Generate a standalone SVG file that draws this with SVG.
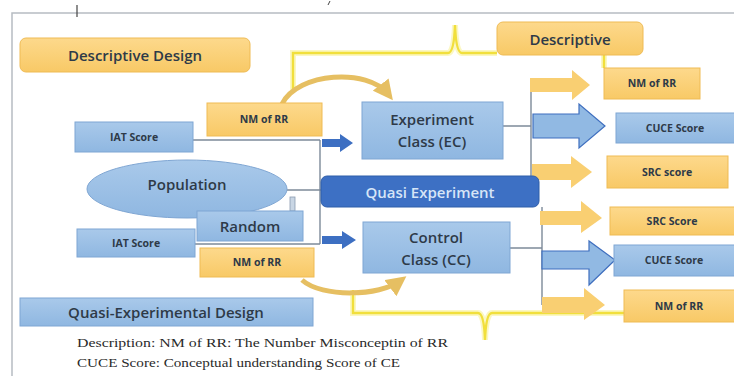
<svg xmlns="http://www.w3.org/2000/svg" width="734" height="376" viewBox="0 0 734 376">
<defs>
<linearGradient id="gO" x1="0" y1="0" x2="0" y2="1"><stop offset="0" stop-color="#fdd98c"/><stop offset="1" stop-color="#f8c966"/></linearGradient>
<linearGradient id="gB" x1="0" y1="0" x2="0" y2="1"><stop offset="0" stop-color="#a9c9ea"/><stop offset="1" stop-color="#8fb7e1"/></linearGradient>
<marker id="gold" viewBox="0 0 10 10" refX="6" refY="5" markerWidth="4" markerHeight="4" orient="auto"><path d="M0,0 L10,5 L0,10 z" fill="#e6bf62"/></marker>
<style>
.o{fill:url(#gO);stroke:#efbb55;stroke-width:1}
.b{fill:url(#gB);stroke:#7fa6d3;stroke-width:1}
.t{font-family:"Open Sans","Liberation Sans",sans-serif;fill:#2e3a48;text-anchor:middle;dominant-baseline:central}
.big{font-size:15px;font-weight:600}
.mid{font-size:15px;font-weight:600}
.sm{font-size:10.5px;font-weight:700}
.ln{stroke:#7d8a99;stroke-width:1.4;fill:none}
.yl{stroke:#f1df3c;stroke-width:2.4;fill:none}
.yg{stroke:#faf3a8;stroke-width:6;fill:none;opacity:.7}
.ao{fill:#f9cf72}
.ab{fill:#91b9e3;stroke:#3f6fbf;stroke-width:1.2}
.ad{fill:#3d6fc2}
.cur{stroke:#e6bf62;stroke-width:5;fill:none}
.ser{font-family:"Liberation Serif",serif;font-size:13px;fill:#2a2a2a}
</style>
</defs>
<rect x="0" y="0" width="734" height="376" fill="#ffffff"/>
<rect x="12" y="13" width="740" height="400" fill="#ffffff" stroke="#b7bcc2" stroke-width="1.5"/>
<line x1="77" y1="5" x2="77" y2="17" stroke="#444" stroke-width="1.2"/>
<line x1="330" y1="1" x2="328" y2="5" stroke="#444" stroke-width="1"/>

<g id="connectors">
<path class="yg" d="M293 90 L293 53 L448 53 Q454 53 455 25 Q456 53 462 53 L497 53"/>
<path class="yl" d="M293 90 L293 53 L448 53 Q454 53 455 25 Q456 53 462 53 L497 53"/>
<path class="yg" d="M604 55 L604 68"/>
<path class="yl" d="M604 55 L604 68"/>
<path class="yg" d="M353 290 L353 313 L478 313 Q484 313 485 340 Q486 313 492 313 L624 313"/>
<path class="yl" d="M353 290 L353 313 L478 313 Q484 313 485 340 Q486 313 492 313 L624 313"/>
<path class="ln" d="M193 140 L320 140 M195 244 L320 244 M320 140 L320 244"/>
<path class="ln" d="M287 190 L321 190"/>
<rect x="290" y="197" width="5" height="14" fill="#c9d6e4" stroke="#8a9bb0" stroke-width="0.8"/>
<path class="ln" d="M503 126 L531 126 M531 84 L531 185"/>
<path class="ln" d="M510 248 L542 248 M542 207 L542 305"/>
<polygon class="ad" points="322,139 340,139 340,134 353,143 340,152 340,147 322,147"/>
<polygon class="ad" points="322,236 342,236 342,231 356,240 342,249 342,244 322,244"/>
<path class="cur" d="M282 104 C298 72 368 68 388 94" marker-end="url(#gold)"/>
<path class="cur" d="M302 280 C322 298 380 296 400 281" marker-end="url(#gold)"/>
<polygon class="ao" points="530,78 572,78 572,70 590,85 572,100 572,92 530,92"/>
<polygon class="ab" points="533,114 579,114 579,104 605,126 579,148 579,138 533,138"/>
<polygon class="ao" points="532,164 571,164 571,156 592,172 571,188 571,180 532,180"/>
<polygon class="ao" points="540,211 581,211 581,201 602,218 581,233 581,225 540,225"/>
<polygon class="ab" points="542,251 589,251 589,241 615,260 589,285 589,269 542,269"/>
<polygon class="ao" points="542,297 584,297 584,288 605,305 584,320 584,313 542,313"/>
</g>

<g id="descriptive-design"><rect class="o" x="20" y="38" width="230" height="34" rx="6"/><text class="t big" x="135" y="55">Descriptive Design</text></g>
<g id="descriptive"><rect class="o" x="497" y="22" width="146" height="33" rx="6"/><text class="t big" x="570" y="39">Descriptive</text></g>
<g id="nm-ec"><rect class="o" x="207" y="103" width="115" height="33"/><text class="t sm" x="264" y="119">NM of RR</text></g>
<g id="iat-ec"><rect class="b" x="75" y="122" width="118" height="30"/><text class="t sm" x="134" y="137">IAT Score</text></g>
<g id="population"><ellipse class="b" cx="187" cy="189" rx="100" ry="29"/><text class="t mid" x="187" y="184">Population</text></g>
<g id="random"><rect class="b" x="197" y="211" width="106" height="30"/><text class="t big" x="250" y="226">Random</text></g>
<g id="iat-cc"><rect class="b" x="77" y="229" width="118" height="28"/><text class="t sm" x="136" y="243">IAT Score</text></g>
<g id="nm-cc"><rect class="o" x="200" y="248" width="114" height="29"/><text class="t sm" x="257" y="262">NM of RR</text></g>
<g id="experiment-class"><rect class="b" x="362" y="102" width="141" height="57"/><text class="t mid" x="432" y="119">Experiment</text><text class="t mid" x="432" y="141">Class (EC)</text></g>
<g id="quasi-experiment"><rect x="321" y="176" width="218" height="31" rx="6" fill="#3d70c4" stroke="#2f5ea9"/><text class="t mid" x="430" y="192" style="fill:#d6e5f7">Quasi Experiment</text></g>
<g id="control-class"><rect class="b" x="363" y="222" width="147" height="51"/><text class="t mid" x="436" y="237">Control</text><text class="t mid" x="436" y="259">Class (CC)</text></g>
<g id="quasi-experimental-design"><rect class="b" x="20" y="298" width="293" height="28"/><text class="t mid" x="166" y="312">Quasi-Experimental Design</text></g>
<g id="nm-ec-out"><rect class="o" x="604" y="68" width="96" height="31"/><text class="t sm" x="652" y="83">NM of RR</text></g>
<g id="cuce-ec-out"><rect class="b" x="616" y="113" width="120" height="30"/><text class="t sm" x="675" y="128">CUCE Score</text></g>
<g id="src-ec-out"><rect class="o" x="607" y="156" width="121" height="32"/><text class="t sm" x="667" y="172">SRC score</text></g>
<g id="src-cc-out"><rect class="o" x="610" y="207" width="126" height="28"/><text class="t sm" x="672" y="221">SRC Score</text></g>
<g id="cuce-cc-out"><rect class="b" x="614" y="245" width="122" height="31"/><text class="t sm" x="674" y="260">CUCE Score</text></g>
<g id="nm-cc-out"><rect class="o" x="624" y="290" width="112" height="32"/><text class="t sm" x="679" y="306">NM of RR</text></g>

<g id="legend">
<text class="ser" x="77" y="347" textLength="371" lengthAdjust="spacingAndGlyphs">Description: NM of RR: The Number Misconceptin of RR</text>
<text class="ser" x="77" y="367" textLength="323" lengthAdjust="spacingAndGlyphs">CUCE Score: Conceptual understanding Score of CE</text>
</g>
</svg>
